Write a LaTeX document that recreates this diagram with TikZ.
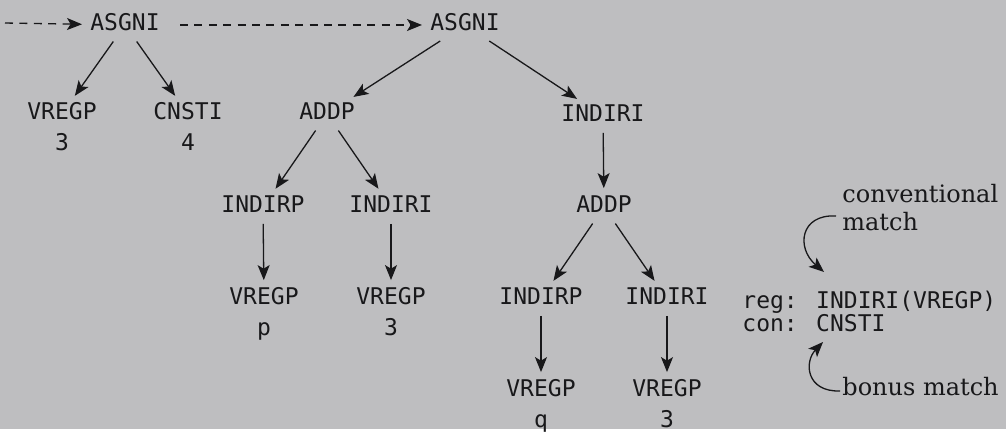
\documentclass[tikz,border=0pt]{standalone}
\usepackage{fontspec}
\usepackage{tikz}
\usetikzlibrary{arrows.meta}
\newfontfamily\codefam{DejaVu Sans Mono}
\newfontfamily\notefam{DejaVu Serif}
\definecolor{paper}{RGB}{190,190,192}
\definecolor{ink}{RGB}{24,24,26}

\begin{document}
\begin{tikzpicture}[x=0.5pt,y=-0.5pt,
  op/.style={font=\codefam\fontsize{11.5}{14}\selectfont, text=ink, inner sep=2pt,
    text height=8pt, text depth=2.5pt},
  val/.style={label={[op,label distance=0.5pt]below:#1}},
  edge/.style={draw=ink, line width=0.65pt, -{Stealth[length=7.5pt,width=6pt,inset=1.8pt]},
    shorten <=1pt, shorten >=2pt},
  link/.style={edge, dash pattern=on 4pt off 3.2pt},
  note/.style={font=\notefam\fontsize{12}{14}\selectfont, text=ink, inner sep=0pt,
    anchor=west, align=left},
  rule/.style={font=\codefam\fontsize{11.5}{14}\selectfont, text=ink, inner sep=0pt,
    anchor=west}]
  \fill[paper] (0,0) rectangle (1006,429);

  % first tree
  \coordinate (entry) at (3,23);
  \node[op] (asgnA) at (125,25) {ASGNI};
  \node[op,val=3] (vregA) at (62,114) {VREGP};
  \node[op,val=4] (cnst) at (188,114) {CNSTI};

  % second tree
  \node[op] (asgnB) at (465,25) {ASGNI};
  \node[op] (addA) at (327,114) {ADDP};
  \node[op] (indiA) at (603,116) {INDIRI};
  \node[op] (indpB) at (263,207) {INDIRP};
  \node[op] (indiB) at (391,207) {INDIRI};
  \node[op] (addB) at (604,207) {ADDP};
  \node[op,val=p] (vregB) at (264,299) {VREGP};
  \node[op,val=3] (vregC) at (391,299) {VREGP};
  \node[op] (indpC) at (541,299) {INDIRP};
  \node[op] (indiC) at (667,299) {INDIRI};
  \node[op,val=q] (vregD) at (541,391) {VREGP};
  \node[op,val=3] (vregE) at (667,391) {VREGP};

  \draw[link] (entry) -- (asgnA);
  \draw[link, shorten <=8pt] (asgnA) -- (asgnB);
  \draw[edge] (asgnA) -- (vregA);
  \draw[edge] (asgnA) -- (cnst);
  \draw[edge] (asgnB) -- (addA);
  \draw[edge] (asgnB) -- (indiA);
  \draw[edge] (addA) -- (indpB);
  \draw[edge] (addA) -- (indiB);
  \draw[edge] (indiA) -- (addB);
  \draw[edge] (indpB) -- (vregB);
  \draw[edge] (indiB) -- (vregC);
  \draw[edge] (addB) -- (indpC);
  \draw[edge] (addB) -- (indiC);
  \draw[edge] (indpC) -- (vregD);
  \draw[edge] (indiC) -- (vregE);

  % the rules and notes
  \node[rule] (regrule) at (742,302) {reg: INDIRI(VREGP)};
  \node[rule] (conrule) at (742,323) {con: CNSTI};
  \node[note] (conv) at (842,208) {conventional\\match};
  \node[note] (bonus) at (842,387) {bonus match};
  \coordinate (convtail) at (836,216);
  \coordinate (convtip) at (824,272);
  \coordinate (bonustail) at (840,391);
  \coordinate (bonustip) at (823,342);
  \draw[edge, shorten <=0pt, shorten >=0pt] (convtail) .. controls (800,214) and (796,248) .. (convtip);
  \draw[edge, shorten <=0pt, shorten >=0pt] (bonustail) .. controls (806,392) and (804,362) .. (bonustip);
\end{tikzpicture}
\end{document}
